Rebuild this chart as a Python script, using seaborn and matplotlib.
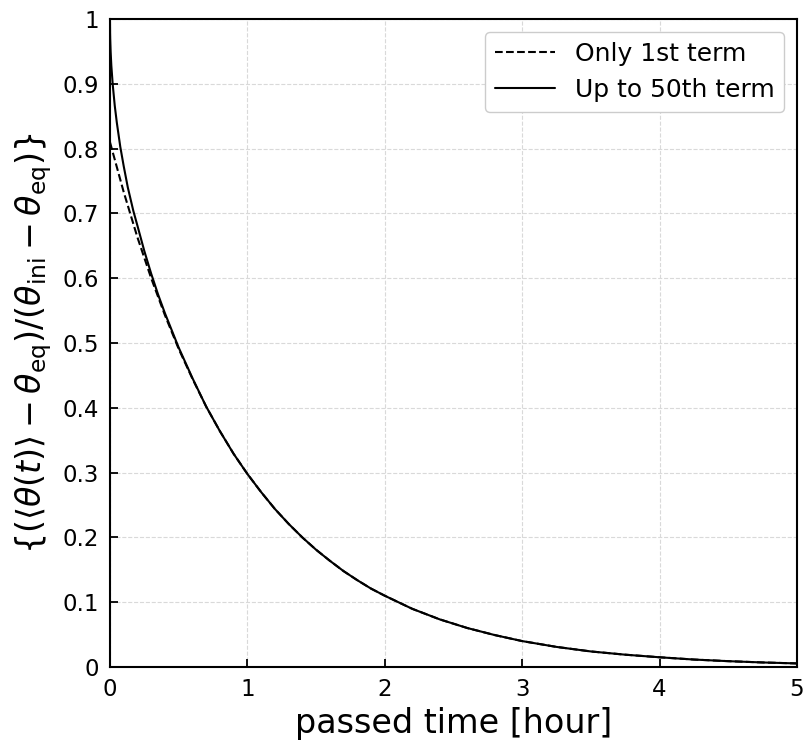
import matplotlib
matplotlib.use("Agg")
import matplotlib.pyplot as plt
import matplotlib.ticker as mticker
import pandas as pd
import numpy as np
import seaborn as sns

# values
t_first = [0.0, 0.1, 0.2, 0.3, 0.4, 0.5, 0.6, 0.7, 0.8, 0.9, 1.0, 1.1, 1.2, 1.3, 1.4,
           1.5, 1.6, 1.7, 1.8, 1.9, 2.0, 2.2, 2.4, 2.6, 2.8, 3.0, 3.25, 3.5, 3.75,
           4.0, 4.25, 4.5, 4.75, 5.0]
theta_first = [0.810, 0.733, 0.663, 0.600, 0.543, 0.491, 0.445, 0.402, 0.364, 0.329,
               0.298, 0.270, 0.244, 0.221, 0.200, 0.181, 0.164, 0.148, 0.134, 0.121,
               0.110, 0.0898, 0.0735, 0.0602, 0.0493, 0.040, 0.031, 0.024, 0.019,
               0.015, 0.0115, 0.009, 0.007, 0.0055]

t_full = [0.0, 0.001, 0.002, 0.005, 0.01, 0.02, 0.035, 0.05, 0.075, 0.1, 0.13, 0.17,
          0.2, 0.25, 0.3, 0.35, 0.4, 0.5, 0.6, 0.7, 0.8, 0.9, 1.0, 1.1, 1.2, 1.3, 1.4,
          1.5, 1.6, 1.7, 1.8, 1.9, 2.0, 2.2, 2.4, 2.6, 2.8, 3.0, 3.25, 3.5, 3.75,
          4.0, 4.25, 4.5, 4.75, 5.0]
theta_full = [1.0, 0.977, 0.968, 0.949, 0.928, 0.899, 0.866, 0.840, 0.803, 0.773, 0.740,
              0.704, 0.681, 0.642, 0.607, 0.575, 0.546, 0.493, 0.446, 0.402, 0.364,
              0.329, 0.298, 0.270, 0.244, 0.221, 0.200, 0.181, 0.164, 0.148, 0.134,
              0.121, 0.110, 0.0898, 0.0735, 0.0602, 0.0493, 0.040, 0.031, 0.024,
              0.019, 0.015, 0.0115, 0.009, 0.007, 0.0055]

df_first = pd.DataFrame({"t": t_first, "theta": theta_first})
df_full = pd.DataFrame({"t": t_full, "theta": theta_full})

sns.set_style("white")
plt.rcParams["font.family"] = ["DejaVu Sans"]
plt.rcParams["mathtext.fontset"] = "dejavusans"
plt.rcParams["text.color"] = "black"
plt.rcParams["axes.labelcolor"] = "black"
plt.rcParams["xtick.color"] = "black"
plt.rcParams["ytick.color"] = "black"

fig = plt.figure(figsize=(8.05, 7.46), dpi=100)
ax = fig.add_axes([0.1366, 0.1059, 0.8534, 0.8686])

sns.lineplot(data=df_first, x="t", y="theta", ax=ax, color="black", linestyle="--",
             linewidth=1.5, label="Only 1st term")
sns.lineplot(data=df_full, x="t", y="theta", ax=ax, color="black", linestyle="-",
             linewidth=1.5, label="Up to 50th term")

ax.set_xlim(0, 5)
ax.set_ylim(0, 1)
ax.set_xticks(np.arange(0, 6, 1))
ax.set_yticks(np.arange(0, 1.01, 0.1))
ax.yaxis.set_major_formatter(mticker.FuncFormatter(lambda v, p: f"{v:.1f}".rstrip("0").rstrip(".") if v else "0"))
ax.xaxis.set_major_formatter(mticker.FuncFormatter(lambda v, p: f"{v:g}"))
ax.tick_params(direction="in", length=6, width=1.3, labelsize=16.5, pad=8,
               left=True, bottom=True, top=False, right=False)
ax.grid(True, color="#d9d9d9", linestyle="--", linewidth=0.8)
for s in ax.spines.values():
    s.set_color("black")
    s.set_linewidth(1.5)

ax.set_xlabel("passed time [hour]", fontsize=24, labelpad=4)
ax.set_ylabel(r"$\{(\langle\theta(t)\rangle - \theta_{\rm eq})/(\theta_{\rm ini} - \theta_{\rm eq})\}$",
              fontsize=24, labelpad=6)

ax.legend(loc="upper right", fontsize=18, handlelength=2.4, frameon=True,
          fancybox=True, edgecolor="#cccccc", framealpha=1)

fig.savefig("out.png", dpi=100)
